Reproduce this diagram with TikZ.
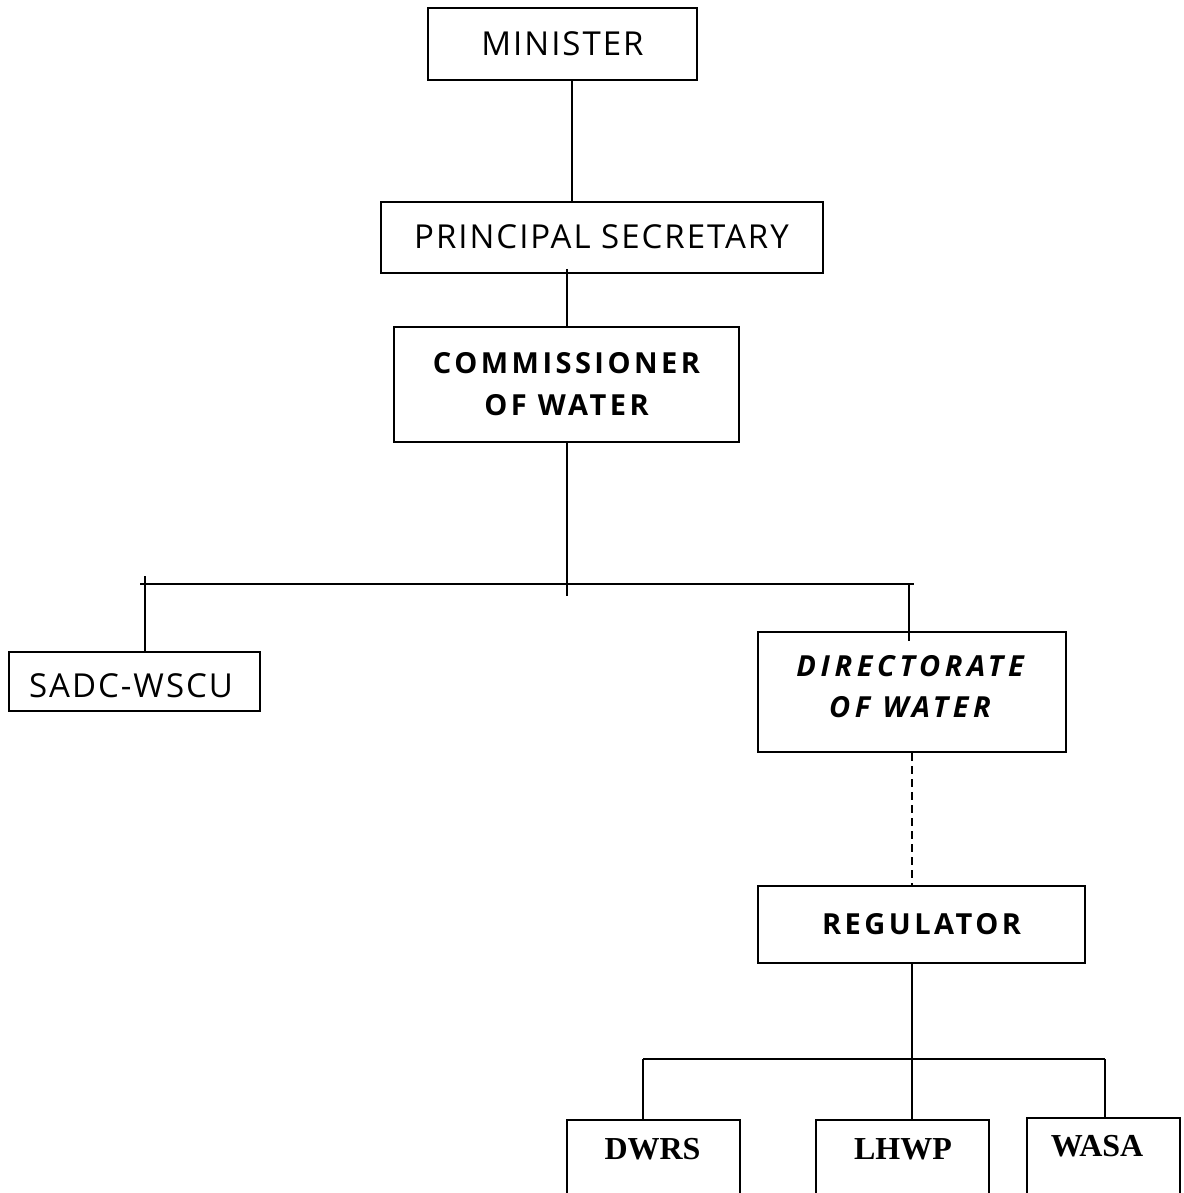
\documentclass[tikz,border=0pt]{standalone}
\usepackage{fontspec}
\setmainfont{Open Sans}
\newfontfamily\serifbf{Liberation Serif}
\tikzset{
  box/.style={draw, line width=2pt, inner sep=0pt, align=center},
  conn/.style={line width=2pt},
  dashconn/.style={line width=2pt, dash pattern=on 8pt off 5pt},
  comic/.style={font=\fontsize{33}{34}\selectfont\addfontfeatures{LetterSpace=6}},
  comicbf/.style={font=\fontsize{29}{42}\selectfont\bfseries\addfontfeatures{LetterSpace=12}},
  comicbi/.style={font=\fontsize{29}{41}\selectfont\bfseries\itshape\addfontfeatures{LetterSpace=16}},
  timesbf/.style={font=\serifbf\fontsize{32}{36}\selectfont\bfseries},
}
\begin{document}
\begin{tikzpicture}[x=1pt,y=-1pt]
\useasboundingbox (0,0) rectangle (1183,1193);
\fill[white] (0,0) rectangle (1183,1193);
\clip (0,0) rectangle (1183,1193);

\node[box, comic, minimum width=269pt, minimum height=72pt] (min) at (562.5,44) {MINISTER};
\node[box, comic, minimum width=442pt, minimum height=71pt] (ps) at (601.5,237) {PRINCIPAL SECRETARY};
\node[box, comicbf, minimum width=345pt, minimum height=115pt] (comm) at (566.5,384) {COMMISSIONER\\OF WATER};
\node[box, comic, minimum width=251pt, minimum height=59pt] (sadc) at (134.5,681.5) {};
\node[comic] (sadct) at (131,686) {SADC-WSCU};
\node[box, comicbi, minimum width=308pt, minimum height=120pt] (dir) at (912,692) {};
\node[comicbi, align=center] (dirt) at (910,687) {DIRECTORATE\\OF WATER};
\node[box, comicbf, minimum width=327pt, minimum height=77pt] (reg) at (921.5,924.5) {REGULATOR};

\node[box, minimum width=173pt, minimum height=150pt, anchor=north] (dwrs) at (653.5,1119) {};
\node[box, minimum width=173pt, minimum height=150pt, anchor=north] (lhwp) at (902.5,1119) {};
\node[box, minimum width=153pt, minimum height=150pt, anchor=north] (wasa) at (1103.5,1117) {};
\node[timesbf] (dwrst) at (652.5,1149) {DWRS};
\node[timesbf] (lhwpt) at (903,1149) {LHWP};
\node[timesbf] (wasat) at (1097,1146) {WASA};

% top chain
\draw[conn] ([xshift=9.5pt]min.south) -- ([xshift=9.5pt]min.south |- ps.north);
\draw[conn] ([yshift=4.7pt]ps.south -| comm.north) -- (comm.north);
\coordinate (cdown) at (566.5,596);
\draw[conn] (comm.south) -- (cdown);

% first bus
\coordinate (busL) at (140,584);
\coordinate (busR) at (914,584);
\draw[conn] (busL) -- (busR);
\coordinate (sadctop) at (145,576);
\draw[conn] (sadctop) -- (sadctop |- sadc.north);
\coordinate (dirjoin) at (909,584);
\draw[conn] (dirjoin) -- ([yshift=-10pt]dirjoin |- dir.north);

% directorate to regulator
\draw[dashconn] (dir.south) -- (dir.south |- reg.north);

% second bus
\coordinate (bus2) at (912,1059);
\draw[conn] (reg.south -| bus2) -- (bus2);
\coordinate (b2L) at (643,1059);
\coordinate (b2R) at (1105,1059);
\draw[conn] (b2L) -- (b2R);
\draw[conn] (b2L) -- (b2L |- dwrs.north);
\draw[conn] (bus2) -- (bus2 |- lhwp.north);
\draw[conn] (b2R) -- (b2R |- wasa.north);
\end{tikzpicture}
\end{document}
